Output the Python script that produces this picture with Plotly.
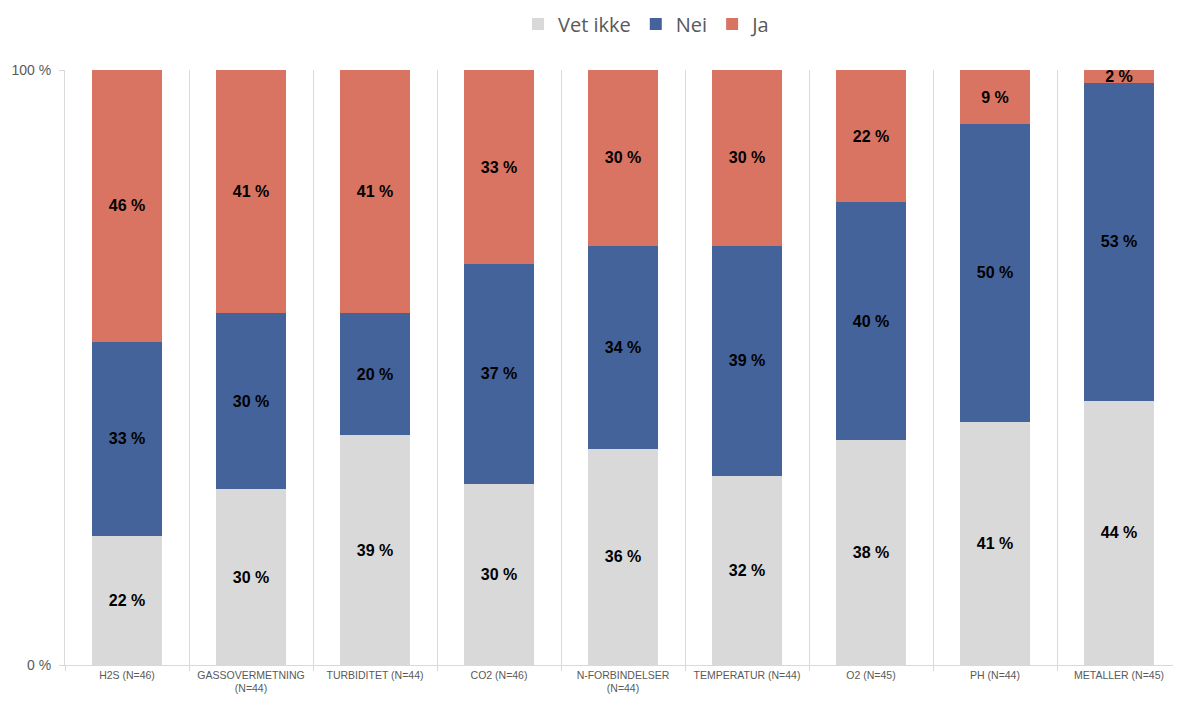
import plotly.graph_objects as go

# antall svar per parameter (lest av figuren)
categories = ["H2S (N=46)", "GASSOVERMETNING<br>(N=44)", "TURBIDITET (N=44)", "CO2 (N=46)",
              "N-FORBINDELSER<br>(N=44)", "TEMPERATUR (N=44)", "O2 (N=45)", "PH (N=44)", "METALLER (N=45)"]
vet_ikke = [10, 13, 17, 14, 16, 14, 17, 18, 20]
nei = [15, 13, 9, 17, 15, 17, 18, 22, 24]
ja = [21, 18, 18, 15, 13, 13, 10, 4, 1]

totals = [a + b + c for a, b, c in zip(vet_ikke, nei, ja)]

def pct(vals):
    return [100 * v / t for v, t in zip(vals, totals)]

series = [("Vet ikke", vet_ikke, "#D9D9D9"), ("Nei", nei, "#44639A"), ("Ja", ja, "#DA7462")]

fig = go.Figure()
for name, vals, color in series:
    p = pct(vals)
    fig.add_trace(go.Bar(
        x=categories, y=p, name=name, marker_color=color, marker_line_width=0,
        text=[f"{v:.0f} %" for v in p], textposition="inside", insidetextanchor="middle",
        textangle=0, textfont=dict(family="Liberation Sans", size=16, color="black", weight="bold"),
        hoverinfo="skip",
    ))

# siden har 8px marg rundt figuren
W, H = 1173, 701
fig.update_layout(
    barmode="stack", bargap=0.43,
    width=W, height=H, autosize=False,
    plot_bgcolor="white", paper_bgcolor="white",
    margin=dict(l=57, r=0, t=62, b=44),
    font=dict(family="Liberation Sans", color="#595959"),
    uniformtext=dict(minsize=16, mode="show"),
    legend=dict(orientation="h", x=639 / W, xanchor="center", xref="container",
                y=1 - 16 / H, yanchor="middle", yref="container",
                font=dict(size=20, family="Open Sans", color="#595959"), traceorder="normal"),
    showlegend=True,
)
fig.update_xaxes(
    type="category", tickson="boundaries", showgrid=True, gridcolor="#D9D9D9", gridwidth=1,
    ticks="outside", ticklen=5, tickcolor="#D9D9D9", showline=True, linecolor="#D9D9D9",
    tickfont=dict(family="Liberation Sans", size=10.5, color="#595959"), automargin=False,
)
fig.update_yaxes(
    range=[0, 100], tickvals=[0, 100], ticktext=["0 %", "100 %"], showgrid=False,
    showline=True, linecolor="#D9D9D9", ticks="outside", ticklen=5, tickcolor="#D9D9D9",
    tickfont=dict(family="Liberation Sans", size=14, color="#595959"), zeroline=False,
    ticklabelstandoff=5, automargin=False,
)

fig.write_html("out.html")
